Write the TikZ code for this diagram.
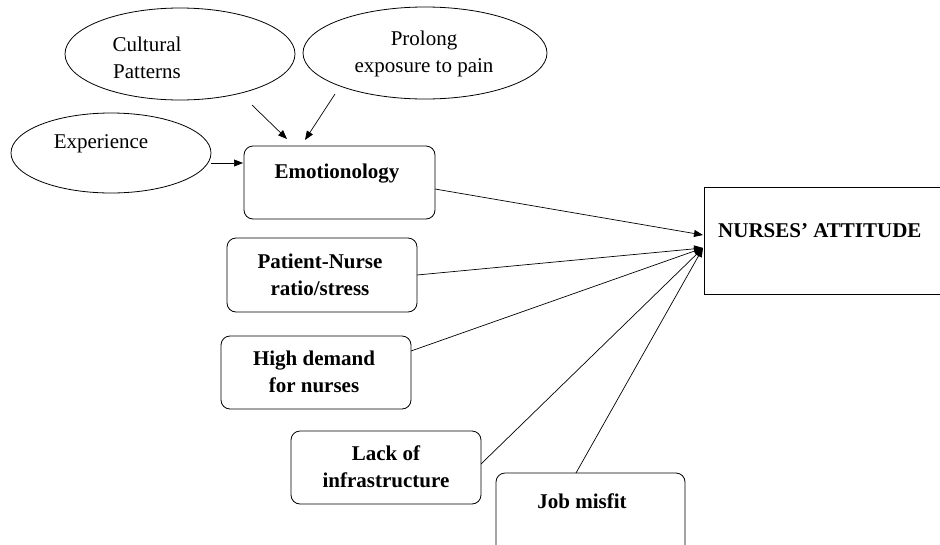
\documentclass[tikz,border=0pt]{standalone}
\usepackage{fontspec}
\setmainfont{Liberation Serif}
\usetikzlibrary{arrows.meta,shapes.geometric}
\begin{document}
\begin{tikzpicture}[x=1pt,y=-1pt,
  every node/.style={font=\fontsize{21}{27}\selectfont, inner sep=0pt},
  oval/.style={draw, ellipse, line width=0.8pt},
  rbox/.style={draw, rounded corners=9pt, line width=0.8pt},
  sbox/.style={draw, line width=0.8pt},
  lbl/.style={align=center, font=\fontsize{21}{27}\selectfont\bfseries},
  txt/.style={align=center},
  arr/.style={-{Triangle[length=9pt,width=7pt]}, line width=0.7pt}]
\useasboundingbox (0,0) rectangle (940,544);
\clip (0,0) rectangle (940,544);
% ellipses
\node[oval, minimum width=230pt, minimum height=92pt] (cult) at (180,54) {};
\node[oval, minimum width=244pt, minimum height=92pt] (prol) at (425,53) {};
\node[oval, minimum width=200pt, minimum height=80pt] (expe) at (111,153) {};
\node[txt] (tcult) at (147,58) {Cultural\\Patterns};
\node[txt] (tprol) at (424,54) {Prolong\\exposure to pain};
\node[txt] (texpe) at (101,144) {Experience};
% boxes
\node[rbox, minimum width=191pt, minimum height=73pt] (emobox) at (339.5,182.5) {};
\node[lbl] (emo) at (337,174) {Emotionology};
\node[rbox, minimum width=190pt, minimum height=74pt] (pnbox) at (322,275) {};
\node[lbl] (pn) at (320,275) {Patient-Nurse\\ratio/stress};
\node[rbox, minimum width=190pt, minimum height=73pt] (hdbox) at (316,372.5) {};
\node[lbl] (hd) at (314,372) {High demand\\for nurses};
\node[rbox, minimum width=190pt, minimum height=73pt] (libox) at (386,467.5) {};
\node[lbl] (li) at (386,467) {Lack of\\infrastructure};
\node[rbox, minimum width=189pt, minimum height=90pt] (jmbox) at (590.5,518) {};
\node[lbl] (jm) at (582,501) {Job misfit};
\node[sbox, minimum width=256pt, minimum height=107pt] (nabox) at (832,240.5) {};
\node[lbl, anchor=west] (na) at (718,231) {NURSES' ATTITUDE};
% named endpoints
\coordinate (c1) at (252,105); \coordinate (c2) at (287,139);
\coordinate (p1) at (335,94); \coordinate (p2) at (305,140);
\coordinate (e1) at (211,163); \coordinate (e2) at (243,163);
\coordinate (emoR) at (435,189);
\coordinate (pnR) at (417,275);
\coordinate (hdR) at (411,351);
\coordinate (liR) at (481,464);
\coordinate (jmT) at (576,473);
\coordinate (tipA) at (703,235);
\coordinate (tipB) at (703,248);
% arrows
\draw[arr] (c1) -- (c2);
\draw[arr] (p1) -- (p2);
\draw[arr] (e1) -- (e2);
\draw[arr] (emoR) -- (tipA);
\draw[arr] (pnR) -- (tipB);
\draw[arr] (hdR) -- (tipB);
\draw[arr] (liR) -- (tipB);
\draw[arr] (jmT) -- (tipB);
\end{tikzpicture}
\end{document}
